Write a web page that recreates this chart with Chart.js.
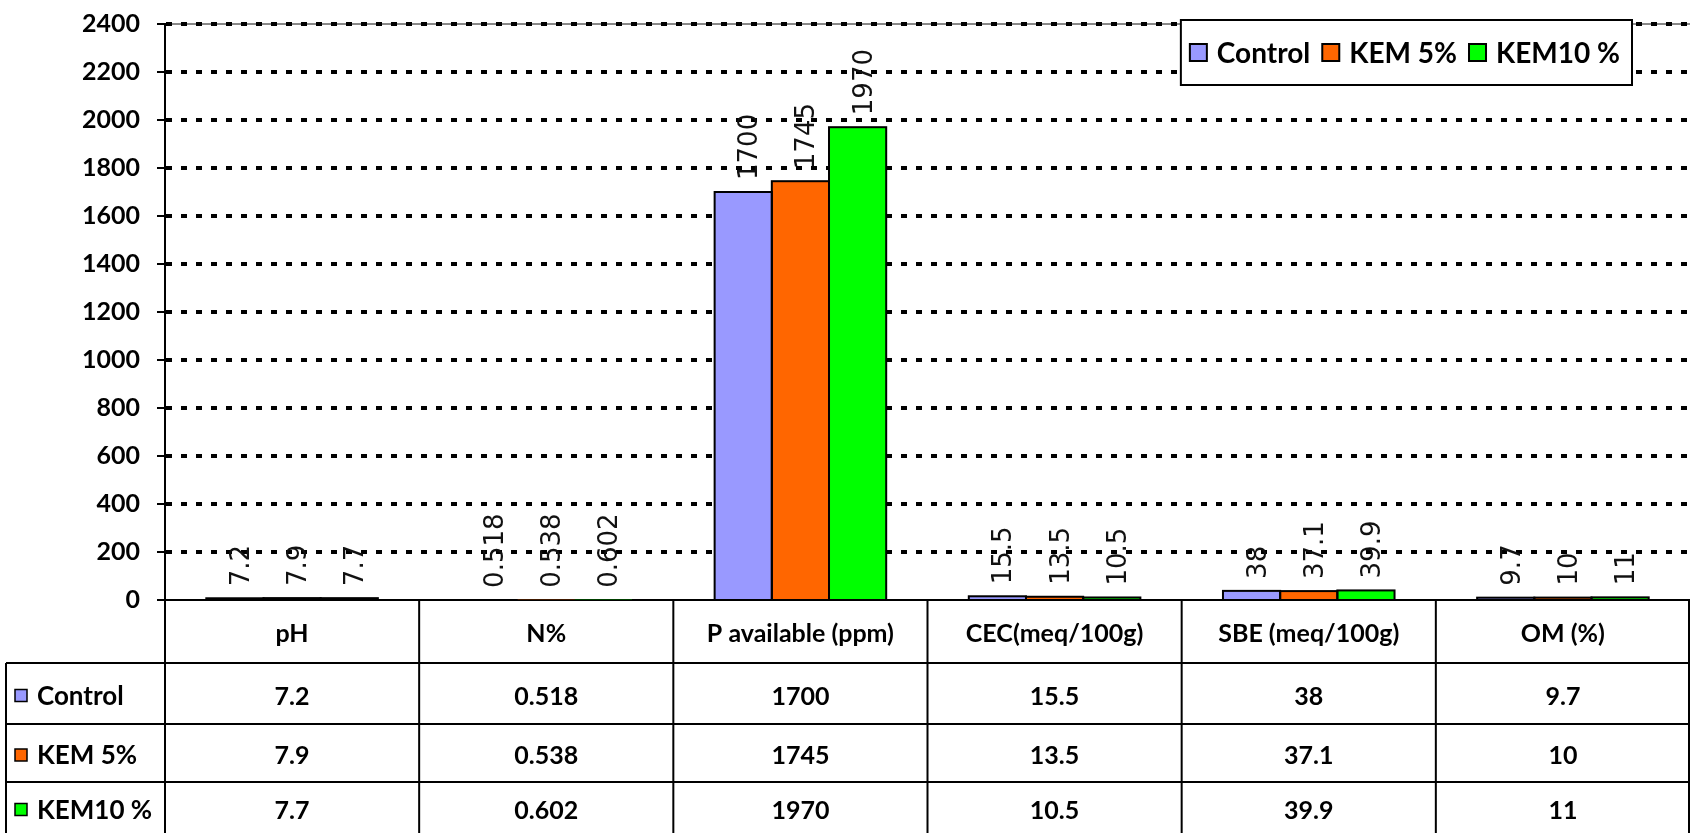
<!DOCTYPE html>
<html>
<head>
<meta charset="utf-8">
<script src="https://cdn.jsdelivr.net/npm/chart.js@4"></script>
<style>
  html, body { margin: 0; padding: 0; background: #fff; }
  #wrap { width: 1690px; height: 833px; position: relative; }
</style>
</head>
<body>
<div id="wrap"><canvas id="soil"></canvas></div>
<script>
const categories = ["pH", "N%", "P available (ppm)", "CEC(meq/100g)", "SBE (meq/100g)", "OM (%)"];
const seriesNames = ["Control", "KEM 5%", "KEM10 %"];
const control = [7.2, 0.518, 1700, 15.5, 38, 9.7];
const kem5 = [7.9, 0.538, 1745, 13.5, 37.1, 10];
const kem10 = [7.7, 0.602, 1970, 10.5, 39.9, 11];
const yTicks = [0, 200, 400, 600, 800, 1000, 1200, 1400, 1600, 1800, 2000, 2200, 2400];
const colors = ["#9999ff", "#ff6600", "#00ff00"];

const BOLD = "Lato";

// table rows under the plot (header row holds the x tick labels)
const rowEdges = [663, 724, 782, 833];
const tableLeft = 6;

// excel-style outline (stroke centred on the edge) + rotated value labels
const barLabels = {
  id: "barLabels",
  afterDatasetsDraw(chart) {
    const { ctx } = chart;
    ctx.save();
    ctx.strokeStyle = "#000";
    ctx.lineWidth = 2;
    chart.data.datasets.forEach((ds, i) => {
      chart.getDatasetMeta(i).data.forEach(bar => {
        if (bar.base - bar.y < 1) return;
        ctx.strokeRect(bar.x - bar.width / 2, bar.y, bar.width, bar.base - bar.y);
      });
    });
    ctx.font = "26px 'DejaVu Sans'";
    ctx.fillStyle = "#111";
    ctx.textAlign = "left";
    ctx.textBaseline = "alphabetic";
    chart.data.datasets.forEach((ds, i) => {
      chart.getDatasetMeta(i).data.forEach((bar, j) => {
        ctx.save();
        ctx.translate(bar.x + 14, bar.y - 12);
        ctx.rotate(-Math.PI / 2);
        ctx.fillText(String(ds.data[j]), 0, 0);
        ctx.restore();
      });
    });
    ctx.restore();
  }
};

const topBorder = {
  id: "topBorder",
  beforeDraw(chart) {
    const { ctx, chartArea } = chart;
    ctx.save();
    ctx.strokeStyle = "#888";
    ctx.lineWidth = 2;
    ctx.beginPath();
    ctx.moveTo(chartArea.left, chartArea.top);
    ctx.lineTo(chartArea.right, chartArea.top);
    ctx.stroke();
    ctx.restore();
  }
};

const dataTable = {
  id: "dataTable",
  afterDraw(chart) {
    const { ctx, chartArea } = chart;
    const x = chart.scales.x;
    const n = categories.length;
    const w = (chartArea.right - chartArea.left) / n;
    const edges = [];
    for (let i = 0; i <= n; i++) edges.push(Math.min(chartArea.left + i * w, chartArea.right - 1));

    ctx.save();
    ctx.strokeStyle = "#000";
    ctx.lineWidth = 2;
    ctx.beginPath();
    edges.forEach(ex => { ctx.moveTo(ex, chartArea.bottom); ctx.lineTo(ex, rowEdges[0]); });
    rowEdges.slice(0, 3).forEach(y => { ctx.moveTo(tableLeft, y); ctx.lineTo(chartArea.right, y); });
    [tableLeft].concat(edges).forEach(ex => { ctx.moveTo(ex, rowEdges[0]); ctx.lineTo(ex, rowEdges[3]); });
    ctx.stroke();

    const rows = [control, kem5, kem10];
    ctx.textBaseline = "middle";
    rows.forEach((vals, r) => {
      const cy = (rowEdges[r] + rowEdges[r + 1]) / 2 + 3;
      ctx.fillStyle = colors[r];
      ctx.fillRect(15, cy - 7, 12, 12);
      ctx.lineWidth = 1.5;
      ctx.strokeRect(15, cy - 7, 12, 12);
      ctx.fillStyle = "#000";
      ctx.font = `bold 26px ${BOLD}`;
      ctx.textAlign = "left";
      ctx.fillText(seriesNames[r], 37, cy);
      ctx.font = `bold 25px ${BOLD}`;
      ctx.textAlign = "center";
      vals.forEach((v, j) => ctx.fillText(String(v), x.getPixelForValue(j), cy));
    });
    ctx.restore();
  }
};

const boxLegend = {
  id: "boxLegend",
  afterDraw(chart) {
    const { ctx } = chart;
    ctx.save();
    ctx.font = `bold 28px ${BOLD}`;
    const widths = seriesNames.map(s => ctx.measureText(s).width);
    const box = 17, gap = 10, between = 12, padL = 9, padR = 12;
    const total = padL + widths.reduce((a, b) => a + b, 0) + seriesNames.length * (box + gap) + between * (seriesNames.length - 1) + padR;
    const right = 1632, top = 20, bottom = 85;
    const left = right - total;
    ctx.fillStyle = "#fff";
    ctx.fillRect(left, top, total, bottom - top);
    ctx.strokeStyle = "#000";
    ctx.lineWidth = 2;
    ctx.strokeRect(left, top, total, bottom - top);
    const cy = (top + bottom) / 2;
    let cx = left + padL;
    ctx.textBaseline = "middle";
    ctx.textAlign = "left";
    seriesNames.forEach((s, i) => {
      ctx.fillStyle = colors[i];
      ctx.fillRect(cx, cy - box / 2, box, box);
      ctx.strokeRect(cx, cy - box / 2, box, box);
      cx += box + gap;
      ctx.fillStyle = "#000";
      ctx.fillText(s, cx, cy + 1);
      cx += widths[i] + between;
    });
    ctx.restore();
  }
};

const isZero = ctx => ctx.tick && ctx.tick.value === 0;

new Chart(document.getElementById("soil"), {
  type: "bar",
  data: {
    labels: categories,
    datasets: [control, kem5, kem10].map((vals, i) => ({
      label: seriesNames[i],
      data: vals,
      backgroundColor: colors[i],
      borderWidth: 0,
      categoryPercentage: 0.675,
      barPercentage: 1
    }))
  },
  options: {
    responsive: true,
    maintainAspectRatio: false,
    animation: false,
    layout: { padding: { top: 24, left: 0, right: 0, bottom: 0 } },
    plugins: { legend: { display: false }, tooltip: { enabled: false } },
    scales: {
      x: {
        grid: { display: false, drawTicks: false },
        border: { display: true, color: "#000", width: 2 },
        ticks: {
          color: "#000",
          font: { family: BOLD, weight: "bold", size: 25 },
          padding: 19,
          maxRotation: 0,
          autoSkip: false
        },
        afterFit(scale) { scale.height = 233; }
      },
      y: {
        min: 0,
        max: 2400,
        afterBuildTicks(scale) { scale.ticks = yTicks.map(v => ({ value: v })); },
        grid: {
          color: ctx => (isZero(ctx) ? "rgba(0,0,0,0)" : "#000"),
          lineWidth: ctx => (isZero(ctx) ? 0 : 4),
          tickLength: 8,
          tickWidth: 2,
          tickColor: "#000"
        },
        border: { display: true, color: "#000", width: 2, dash: [6, 9] },
        ticks: {
          color: "#000",
          font: { family: BOLD, weight: "bold", size: 25 },
          padding: 17,
          callback: v => String(v)
        },
        afterFit(scale) {
          scale.width = 165;
          scale.paddingTop = 0;
          scale.paddingBottom = 0;
        }
      }
    }
  },
  plugins: [topBorder, barLabels, dataTable, boxLegend]
});
</script>
</body>
</html>
